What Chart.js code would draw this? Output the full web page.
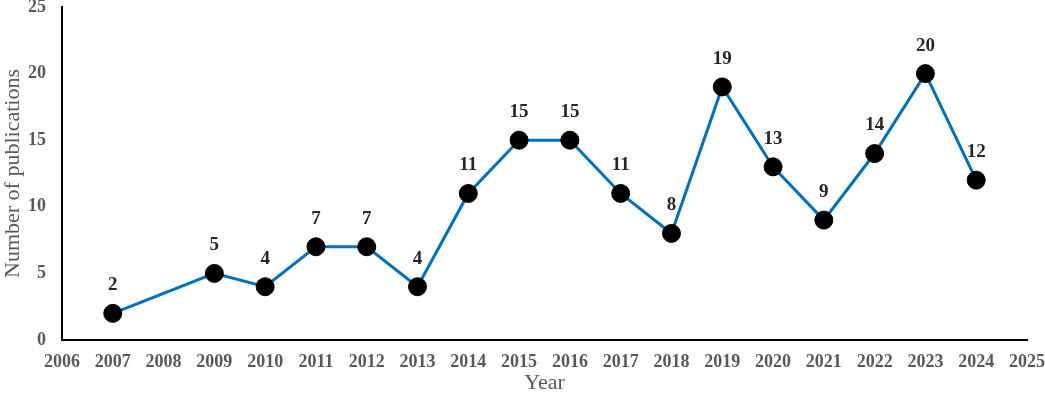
<!DOCTYPE html>
<html>
<head>
<meta charset="utf-8">
<script src="https://cdn.jsdelivr.net/npm/chart.js@4.4.0/dist/chart.umd.min.js"></script>
<style>
  html, body { margin: 0; padding: 0; background: #fff; }
  #wrap { width: 1045px; height: 396px; }
</style>
</head>
<body>
<div id="wrap"><canvas id="pubChart"></canvas></div>
<script>
// Publications per year
const years = [2007, 2009, 2010, 2011, 2012, 2013, 2014, 2015, 2016, 2017, 2018, 2019, 2020, 2021, 2022, 2023, 2024];
const counts = [2, 5, 4, 7, 7, 4, 11, 15, 15, 11, 8, 19, 13, 9, 14, 20, 12];
const xRange = [2006, 2025];
const yRange = [0, 25];

const serif = '"Liberation Serif", "Times New Roman", serif';

// draw value labels above each point
const valueLabels = {
    id: 'valueLabels',
    afterDatasetsDraw(chart) {
        const ctx = chart.ctx;
        const meta = chart.getDatasetMeta(0);
        ctx.save();
        ctx.font = 'bold 19px ' + serif;
        ctx.fillStyle = '#262626';
        ctx.textAlign = 'center';
        ctx.textBaseline = 'middle';
        meta.data.forEach(function (pt, i) {
            ctx.fillText(String(counts[i]), pt.x, pt.y - 28);
        });
        ctx.restore();
    }
};

new Chart(document.getElementById('pubChart'), {
    type: 'line',
    data: {
        datasets: [{
            label: 'Publications',
            data: years.map(function (y, i) { return { x: y, y: counts[i] }; }),
            borderColor: '#0070C0',
            borderWidth: 3,
            tension: 0,
            fill: false,
            pointRadius: 9,
            pointBackgroundColor: '#000',
            pointBorderColor: '#000',
            pointBorderWidth: 1
        }]
    },
    options: {
        responsive: true,
        maintainAspectRatio: false,
        animation: false,
        layout: {
            autoPadding: false,
            padding: { top: 0, right: 18, bottom: 0, left: 0 }
        },
        plugins: {
            legend: { display: false },
            tooltip: { enabled: false }
        },
        scales: {
            x: {
                type: 'linear',
                min: xRange[0],
                max: xRange[1],
                grid: { display: false, drawTicks: false },
                border: { display: true, color: '#000', width: 2 },
                ticks: {
                    stepSize: 1,
                    padding: 12,
                    color: '#595959',
                    font: { family: serif, size: 18, weight: 'bold' },
                    callback: function (v) { return String(v); }
                },
                title: {
                    display: true,
                    text: 'Year',
                    color: '#595959',
                    padding: { top: 0, bottom: 0 },
                    font: { family: serif, size: 22 }
                },
                afterFit: function (axis) {
                    axis.height = 56;
                    axis.paddingLeft = 0;
                    axis.paddingRight = 0;
                }
            },
            y: {
                min: yRange[0],
                max: yRange[1],
                grid: { display: false, drawTicks: false },
                border: { display: true, color: '#000', width: 2 },
                ticks: {
                    stepSize: 5,
                    padding: 16,
                    color: '#595959',
                    font: { family: serif, size: 18, weight: 'bold' }
                },
                title: {
                    display: true,
                    text: 'Number of publications',
                    color: '#595959',
                    padding: { top: 0, bottom: 4 },
                    font: { family: serif, size: 22 }
                },
                afterFit: function (axis) {
                    axis.width = 62;
                    axis.paddingTop = 7;
                    axis.paddingBottom = 0;
                }
            }
        }
    },
    plugins: [valueLabels]
});
</script>
</body>
</html>
